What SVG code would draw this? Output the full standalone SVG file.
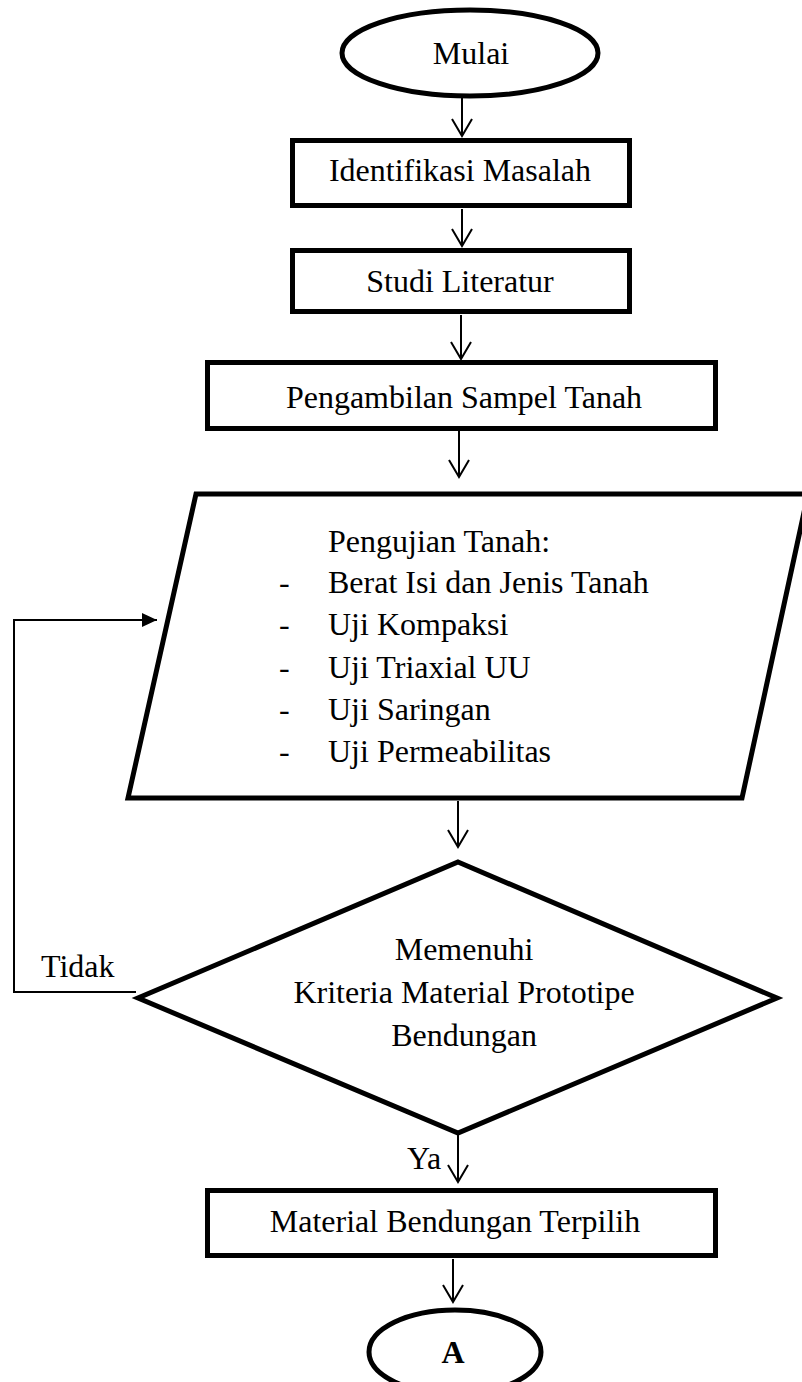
<svg xmlns="http://www.w3.org/2000/svg" width="802" height="1382" viewBox="0 0 802 1382">
<style>
.shape{fill:#fff;stroke:#000;stroke-width:5;stroke-linejoin:miter}
.conn{fill:none;stroke:#000;stroke-width:2}
text{font-family:"Liberation Serif","Times New Roman",serif;font-size:32px;fill:#000}
.c{text-anchor:middle}
</style>
<defs>
<marker id="open" markerUnits="userSpaceOnUse" viewBox="-19 -12 21 24" refX="0" refY="0" markerWidth="21" markerHeight="24" orient="auto">
<path d="M-17,-10 L0,0 L-17,10" fill="none" stroke="#000" stroke-width="2"/>
</marker>
<marker id="solid" markerUnits="userSpaceOnUse" viewBox="-16 -8 17 16" refX="0" refY="0" markerWidth="17" markerHeight="16" orient="auto">
<path d="M-15,-7 L0,0 L-15,7 Z" fill="#000"/>
</marker>
</defs>
<rect width="802" height="1382" fill="#fff"/>
<g id="connectors">
<line class="conn" x1="462" y1="98" x2="462" y2="136" marker-end="url(#open)"/>
<line class="conn" x1="462" y1="209" x2="462" y2="246" marker-end="url(#open)"/>
<line class="conn" x1="461" y1="315" x2="461" y2="359" marker-end="url(#open)"/>
<line class="conn" x1="459" y1="431" x2="459" y2="477" marker-end="url(#open)"/>
<line class="conn" x1="458" y1="801" x2="458" y2="847" marker-end="url(#open)"/>
<polyline class="conn" points="136,992 14,992 14,620 157,620" marker-end="url(#solid)"/>
<line class="conn" x1="458" y1="1134" x2="458" y2="1182" marker-end="url(#open)"/>
<line class="conn" x1="453" y1="1259" x2="453" y2="1302" marker-end="url(#open)"/>
<text x="41" y="977">Tidak</text>
<text x="407" y="1169">Ya</text>
</g>
<g id="mulai">
<ellipse class="shape" cx="470" cy="53" rx="128" ry="43"/>
<text class="c" x="471" y="64">Mulai</text>
</g>
<g id="identifikasi">
<rect class="shape" x="292.5" y="140.5" width="337" height="65"/>
<text class="c" x="460" y="181">Identifikasi Masalah</text>
</g>
<g id="studi">
<rect class="shape" x="292.5" y="250.5" width="337" height="61"/>
<text class="c" x="460" y="292">Studi Literatur</text>
</g>
<g id="pengambilan">
<rect class="shape" x="207.5" y="362.5" width="508" height="66"/>
<text class="c" x="464" y="408">Pengambilan Sampel Tanah</text>
</g>
<g id="pengujian">
<path class="shape" d="M196,494 L808,494 L742,798 L128,798 Z"/>
<text x="328" y="552">Pengujian Tanah:</text>
<text x="279" y="593">-</text><text x="328" y="593">Berat Isi dan Jenis Tanah</text>
<text x="279" y="635">-</text><text x="328" y="635">Uji Kompaksi</text>
<text x="279" y="678">-</text><text x="328" y="678">Uji Triaxial UU</text>
<text x="279" y="720">-</text><text x="328" y="720">Uji Saringan</text>
<text x="279" y="762">-</text><text x="328" y="762">Uji Permeabilitas</text>
</g>
<g id="keputusan">
<path class="shape" d="M458,862 L777,998 L458,1133 L138,998 Z"/>
<text class="c" x="464" y="960">Memenuhi</text>
<text class="c" x="464" y="1003">Kriteria Material Prototipe</text>
<text class="c" x="464" y="1046">Bendungan</text>
</g>
<g id="material">
<rect class="shape" x="207.5" y="1190.5" width="508" height="65"/>
<text class="c" x="455" y="1232">Material Bendungan Terpilih</text>
</g>
<g id="a">
<ellipse class="shape" cx="455" cy="1352" rx="86" ry="42"/>
<text class="c" x="453" y="1363" font-weight="bold">A</text>
</g>
</svg>
